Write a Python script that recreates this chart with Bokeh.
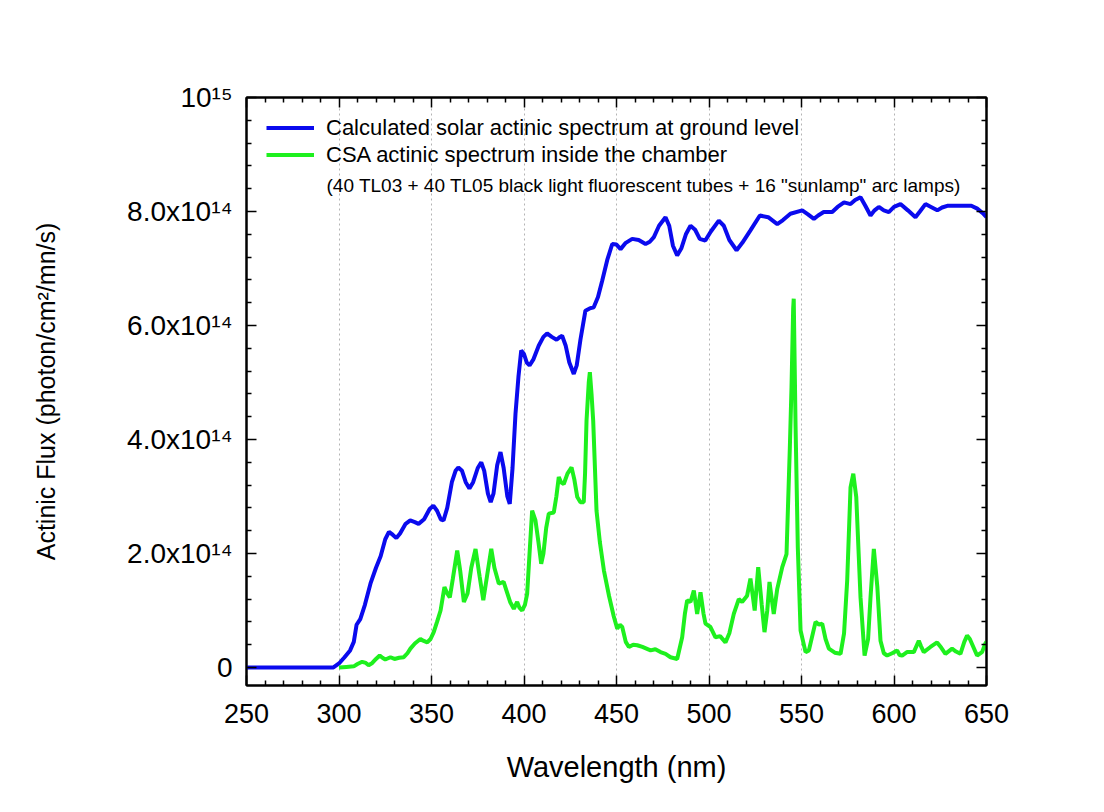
from bokeh.plotting import figure
from bokeh.models import Range1d, LinearAxis, FixedTicker, Legend, LegendItem, Label
from bokeh.embed import file_html
from bokeh.resources import INLINE

# ---------------- data (flux in units of 1e14 photon/cm2/nm/s) ----------------
solar_wl = [250, 297, 300, 303, 306, 308, 309.5, 311.5, 314, 317, 320, 322.5, 325, 327, 329, 331, 333,
            336, 338.5, 341, 343, 346, 349, 351, 353, 355, 356.5, 358.5, 361, 363, 364.5, 366.5, 368.5,
            370.5, 372.5, 375, 376.9, 378.5, 380.5, 382, 383.5, 385.5, 387.3, 389, 391, 392.3, 393.8,
            395.4, 397, 398.5, 400, 401.5, 403, 405, 408, 410.5, 412.5, 415, 417.6, 419.5, 420.6, 422.5,
            424.5, 426.9, 428.5, 430.5, 433.2, 435.5, 437.7, 440, 442.3, 445, 447.7, 450, 452.2, 455,
            458.5, 462, 465.7, 468, 470.2, 473, 476.5, 478.5, 480.5, 482.8, 485, 487.5, 490, 492.5, 495,
            498, 501, 505.3, 508, 511, 514.9, 518, 522.4, 527.5, 532, 536.9, 540, 544, 550.4, 553.5,
            556.7, 559, 562, 566.6, 569.5, 573, 576.5, 579, 581.9, 584.5, 587.3, 589.5, 591.8, 594.5,
            597.2, 600, 603.5, 607.5, 611.6, 614, 617, 620, 623.4, 626, 628.8, 635, 641.8, 645, 648, 650]
solar_flux = [0, 0, 0.07, 0.18, 0.3, 0.45, 0.75, 0.85, 1.1, 1.47, 1.75, 1.95, 2.25, 2.38, 2.33, 2.27, 2.35,
              2.52, 2.58, 2.55, 2.52, 2.6, 2.78, 2.84, 2.75, 2.6, 2.58, 2.8, 3.25, 3.45, 3.51, 3.45, 3.25,
              3.14, 3.25, 3.5, 3.6, 3.45, 3.05, 2.9, 3.05, 3.55, 3.78, 3.5, 3.0, 2.87, 3.5,
              4.45, 5.1, 5.56, 5.5, 5.35, 5.3, 5.4, 5.65, 5.8, 5.86, 5.8, 5.75, 5.8, 5.82, 5.65,
              5.35, 5.15, 5.3, 5.75, 6.26, 6.3, 6.32, 6.5, 6.79, 7.15, 7.43, 7.42, 7.34, 7.45,
              7.52, 7.5, 7.43, 7.47, 7.55, 7.75, 7.9, 7.75, 7.4, 7.23, 7.35, 7.6, 7.75, 7.68, 7.52,
              7.49, 7.65, 7.84, 7.75, 7.5, 7.32, 7.45, 7.67, 7.93, 7.9, 7.78, 7.85, 7.96, 8.02, 7.95,
              7.87, 7.93, 7.99, 7.99, 8.08, 8.16, 8.13, 8.2, 8.25, 8.1, 7.93, 8.02, 8.08, 8.02,
              7.99, 8.08, 8.13, 8.02, 7.9, 8.0, 8.13, 8.08, 8.02, 8.07, 8.1, 8.1, 8.1, 8.05, 7.97, 7.9]

csa_wl = [300, 304, 308, 310, 312.5, 314.5, 316, 318, 320, 322, 323.5, 325, 327.8, 330, 332.5, 335, 337,
          338.6, 341, 344, 345.5, 347.7, 349.5, 351.2, 353, 354.9, 357, 358.5, 359.9, 361.5, 363.9, 365.5,
          367.5, 369.5, 371.5, 373.8, 376, 378, 380, 382.3, 384, 386.4, 389, 391, 392.5, 394.5, 396.3,
          397.5, 399, 400.5, 401.7, 403, 404.4, 406.2, 407.8, 409.3, 410.5, 412, 413.4, 416.1, 417.5,
          418.8, 420, 421.5, 423.5, 425.7, 427.2, 428.8, 430.5, 432.3, 433, 433.8, 435, 435.6, 436.5,
          437.4, 439.2, 441, 443.2, 446, 448.5, 450.4, 451.8, 453.1, 455, 456.7, 459, 461.2, 464, 468.4,
          471, 473.8, 476.5, 479.2, 482.8, 485.5, 487, 488.2, 490, 491.8, 493.6, 495.4, 497, 498.1,
          500.8, 503.5, 506, 508.9, 511, 513.4, 516.1, 517.9, 520.6, 522.4, 524.7, 526.6, 528.5, 530,
          531.5, 532.7, 535, 536.9, 539.6, 541.9, 543.7, 544.6, 545.5, 545.8, 546.8, 548, 549.5, 552.2,
          554, 557.6, 559.5, 561.2, 563, 564.8, 568, 571.1, 573, 574.7, 576.5, 578, 579.6, 581.9, 584.1,
          586, 587.3, 589.1, 591, 592.7, 594.5, 596.3, 599, 601.7, 603, 604.4, 607, 610.7, 613.4, 614.5,
          616.1, 619.7, 621.5, 623.3, 625.5, 627.8, 631.4, 633.5, 635.9, 638, 639.5, 641, 644.9, 647.6,
          649.5, 650]
csa_flux = [0, 0.01, 0.02, 0.06, 0.1, 0.08, 0.04, 0.08, 0.15, 0.21, 0.17, 0.14, 0.18, 0.15, 0.17, 0.18, 0.25,
            0.33, 0.42, 0.5, 0.47, 0.44, 0.5, 0.62, 0.8, 1.0, 1.41, 1.3, 1.23, 1.55, 2.05, 1.7,
            1.15, 1.3, 1.75, 2.08, 1.6, 1.18, 1.6, 2.08, 1.75, 1.47, 1.5, 1.3, 1.15, 1.03, 1.15,
            1.05, 1.0, 1.1, 1.29, 2.0, 2.75, 2.58, 2.2, 1.82, 2.0, 2.45, 2.7, 2.72, 3.0,
            3.34, 3.25, 3.22, 3.4, 3.51, 3.3, 2.99, 2.9, 2.9, 3.4, 4.33, 5.0, 5.18, 4.8,
            4.33, 2.75, 2.2, 1.7, 1.25, 0.9, 0.68, 0.75, 0.71, 0.45, 0.36, 0.4, 0.39, 0.36, 0.3,
            0.32, 0.27, 0.24, 0.18, 0.15, 0.53, 0.95, 1.18, 1.15, 1.35, 0.94, 1.32, 0.95, 0.77,
            0.71, 0.53, 0.55, 0.44, 0.6, 0.94, 1.2, 1.15, 1.26, 1.56, 1.0, 1.76, 1.1, 0.62,
            1.0, 1.5, 0.94, 1.38, 1.76, 1.99, 3.86, 4.92, 6.3, 6.47, 4.22, 2.11, 0.65, 0.27,
            0.3, 0.8, 0.75, 0.77, 0.5, 0.33, 0.26, 0.24, 0.6, 1.53, 3.16, 3.4, 2.99, 1.23, 0.21,
            0.5, 1.23, 2.08, 1.41, 0.47, 0.25, 0.21, 0.25, 0.3, 0.22, 0.21, 0.27, 0.27, 0.47, 0.38,
            0.27, 0.36, 0.4, 0.44, 0.35, 0.24, 0.33, 0.28, 0.24, 0.45, 0.56, 0.5, 0.21, 0.27,
            0.43, 0.45]

x_ticks = [250, 300, 350, 400, 450, 500, 550, 600, 650]
x_minor = [260, 270, 280, 290, 310, 320, 330, 340, 360, 370, 380, 390, 410, 420, 430, 440,
           460, 470, 480, 490, 510, 520, 530, 540, 560, 570, 580, 590, 610, 620, 630, 640]
y_ticks = [0, 2, 4, 6, 8, 10]
y_tick_labels = ["0", "2.0x10\u00b9\u2074", "4.0x10\u00b9\u2074", "6.0x10\u00b9\u2074",
                 "8.0x10\u00b9\u2074", "10\u00b9\u2075"]
y_minor = [0.4, 0.8, 1.2, 1.6, 2.4, 2.8, 3.2, 3.6, 4.4, 4.8, 5.2, 5.6, 6.4, 6.8, 7.2, 7.6,
           8.4, 8.8, 9.2, 9.6]

series_labels = ["Calculated solar actinic spectrum at ground level",
                 "CSA actinic spectrum inside the chamber"]
note_text = '(40 TL03 + 40 TL05 black light fluorescent tubes + 16 "sunlamp" arc lamps)'
x_title = "Wavelength (nm)"
y_title = "Actinic Flux (photon/cm\u00b2/mn/s)"

FONT = "Liberation Sans"
BLUE = "#0a0aee"
GREEN = "#1ef01e"

p = figure(width=1096, height=804, output_backend="svg", toolbar_location=None,
           x_range=Range1d(250, 650), y_range=Range1d(-0.316, 10),
           min_border_left=246, min_border_right=110, min_border_top=97, min_border_bottom=119,
           background_fill_color="white", border_fill_color="white")
p.outline_line_color = "black"
p.outline_line_width = 2

xa = p.below[0]
ya = p.left[0]

xt = FixedTicker(ticks=x_ticks, minor_ticks=x_minor)
yt = FixedTicker(ticks=y_ticks, minor_ticks=y_minor)

top_ax = LinearAxis(ticker=xt)
right_ax = LinearAxis(ticker=yt)
p.add_layout(top_ax, "above")
p.add_layout(right_ax, "right")

for ax in [xa, ya, top_ax, right_ax]:
    ax.axis_line_width = 2
    ax.axis_line_color = "black"
    ax.major_tick_in = 10
    ax.major_tick_out = 0
    ax.minor_tick_in = 5
    ax.minor_tick_out = 0
    ax.major_tick_line_width = 1.5
    ax.minor_tick_line_width = 1.5
    ax.major_tick_line_color = "black"
    ax.minor_tick_line_color = "black"
    ax.major_label_text_font = FONT
    ax.major_label_text_font_size = "27px"
    ax.major_label_text_color = "black"

ya.major_label_text_font_size = "28px"

xa.ticker = xt
xa.major_label_standoff = 18
xa.axis_label = x_title
xa.axis_label_text_font = FONT
xa.axis_label_text_font_size = "29px"
xa.axis_label_text_font_style = "normal"
xa.axis_label_text_color = "black"
xa.axis_label_standoff = 25

ya.ticker = yt
ya.major_label_standoff = 14
ya.major_label_overrides = {t: s for t, s in zip(y_ticks, y_tick_labels)}
ya.axis_label = y_title
ya.axis_label_text_font = FONT
ya.axis_label_text_font_size = "25px"
ya.axis_label_text_font_style = "normal"
ya.axis_label_text_color = "black"
ya.axis_label_standoff = 64

top_ax.major_label_overrides = {t: "" for t in x_ticks}
right_ax.major_label_overrides = {t: "" for t in y_ticks}

p.xgrid.ticker = xt
p.xgrid.grid_line_color = "#b4b4b4"
p.xgrid.grid_line_dash = "2 3"
p.xgrid.grid_line_width = 1
p.ygrid.grid_line_color = None

r_solar = p.line(solar_wl, solar_flux, line_color=BLUE, line_width=4)
r_csa = p.line(csa_wl, csa_flux, line_color=GREEN, line_width=4)

legend = Legend(items=[LegendItem(label=series_labels[0], renderers=[r_solar]),
                       LegendItem(label=series_labels[1], renderers=[r_csa])],
                location=(20, 517), padding=0, spacing=0, margin=0,
                label_height=27, glyph_height=27, glyph_width=48, label_standoff=12,
                label_text_font=FONT, label_text_font_size="22px", label_text_color="black",
                border_line_color=None, background_fill_alpha=0)
p.add_layout(legend)

p.add_layout(Label(x=250, y=8.456, x_offset=80, text=note_text, text_align="left",
                   text_baseline="middle", text_font=FONT, text_font_size="19px",
                   text_color="black"))

open("out.html", "w").write(file_html(p, INLINE))
